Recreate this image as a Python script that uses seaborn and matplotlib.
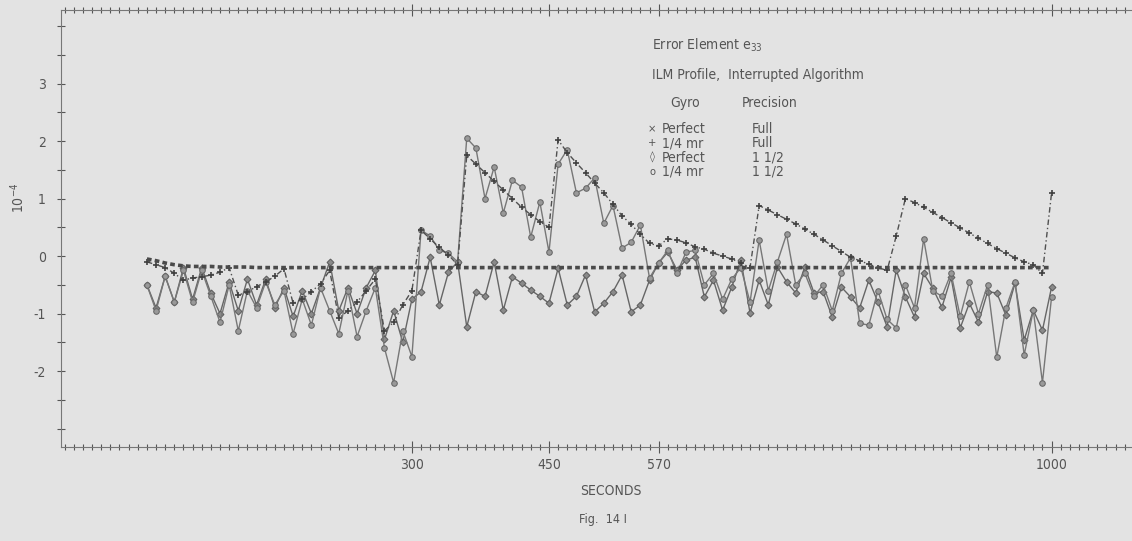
import numpy as np
import pandas as pd
import seaborn as sns
import matplotlib.pyplot as plt
from matplotlib.ticker import FixedLocator, MultipleLocator

# sample times (seconds), one point every 10 s
seconds = list(range(10, 1001, 10))

# x  Perfect gyro, full precision
perfect_full = [-0.05, -0.08, -0.12, -0.15, -0.17, -0.18, -0.18, -0.18, -0.19, -0.19,
                -0.19, -0.19, -0.2, -0.2, -0.2, -0.2, -0.2, -0.2, -0.2, -0.2,
                -0.2, -0.2, -0.2, -0.2, -0.2, -0.2, -0.2, -0.2, -0.2, -0.2,
                -0.2, -0.2, -0.2, -0.2, -0.2, -0.2, -0.2, -0.2, -0.2, -0.2,
                -0.2, -0.2, -0.2, -0.2, -0.2, -0.2, -0.2, -0.2, -0.2, -0.2,
                -0.2, -0.2, -0.2, -0.2, -0.2, -0.2, -0.2, -0.2, -0.2, -0.2,
                -0.2, -0.2, -0.2, -0.2, -0.2, -0.2, -0.2, -0.2, -0.2, -0.2,
                -0.2, -0.2, -0.2, -0.2, -0.2, -0.2, -0.2, -0.2, -0.2, -0.2,
                -0.2, -0.2, -0.2, -0.2, -0.2, -0.2, -0.2, -0.2, -0.2, -0.2,
                -0.2, -0.2, -0.2, -0.2, -0.2, -0.2, -0.2, -0.2, -0.2, -0.2]

# +  1/4 mr gyro, full precision (sawtooth, reset by the interrupted algorithm)
quarter_full = [-0.1, -0.15, -0.2, -0.3, -0.42, -0.38, -0.36, -0.33, -0.28, -0.2,
                -0.68, -0.62, -0.53, -0.45, -0.35, -0.22, -0.82, -0.75, -0.62, -0.48,
                -0.25, -1.08, -0.95, -0.8, -0.6, -0.4, -1.3, -1.15, -0.85, -0.6,
                0.45, 0.3, 0.15, 0.02, -0.15, 1.75, 1.6, 1.45, 1.3, 1.15,
                1.0, 0.85, 0.72, 0.6, 0.5, 2.02, 1.8, 1.62, 1.45, 1.27,
                1.1, 0.9, 0.7, 0.55, 0.38, 0.22, 0.18, 0.3, 0.28, 0.23,
                0.16, 0.12, 0.05, 0.0, -0.05, -0.12, -0.2, 0.88, 0.8, 0.72,
                0.64, 0.56, 0.47, 0.38, 0.28, 0.18, 0.08, -0.02, -0.08, -0.14,
                -0.2, -0.25, 0.35, 1.0, 0.93, 0.85, 0.76, 0.67, 0.58, 0.49,
                0.4, 0.31, 0.22, 0.13, 0.05, -0.03, -0.1, -0.15, -0.3, 1.1]

# diamond  Perfect gyro, 1 1/2 precision
perfect_half = [-0.5, -0.9, -0.35, -0.8, -0.2, -0.75, -0.2, -0.65, -1.0, -0.45,
                -0.95, -0.4, -0.85, -0.4, -0.9, -0.55, -1.05, -0.6, -1.0, -0.55,
                -0.1, -0.95, -0.55, -1.0, -0.55, -0.25, -1.45, -0.95, -1.5, -0.75,
                -0.62, -0.02, -0.85, -0.28, -0.1, -1.23, -0.62, -0.7, -0.1, -0.94,
                -0.36, -0.47, -0.59, -0.7, -0.82, -0.21, -0.85, -0.7, -0.33, -0.97,
                -0.82, -0.62, -0.33, -0.97, -0.85, -0.42, -0.12, 0.07, -0.24, -0.07,
                -0.02, -0.71, -0.42, -0.94, -0.54, -0.07, -0.99, -0.42, -0.85, -0.19,
                -0.45, -0.64, -0.19, -0.64, -0.62, -1.06, -0.54, -0.71, -0.9, -0.42,
                -0.8, -1.23, -0.24, -0.71, -1.06, -0.3, -0.56, -0.89, -0.37, -1.25,
                -0.82, -1.15, -0.62, -0.64, -1.03, -0.47, -1.46, -0.94, -1.29, -0.54]

# circle  1/4 mr gyro, 1 1/2 precision
quarter_half = [-0.5, -0.95, -0.35, -0.8, -0.25, -0.8, -0.25, -0.7, -1.15, -0.5,
                -1.3, -0.6, -0.9, -0.45, -0.85, -0.6, -1.35, -0.75, -1.2, -0.55,
                -0.95, -1.35, -0.6, -1.4, -0.95, -0.55, -1.6, -2.2, -1.3, -1.75,
                0.45, 0.35, 0.1, 0.05, -0.1, 2.05, 1.88, 1.0, 1.55, 0.75,
                1.32, 1.2, 0.33, 0.94, 0.07, 1.6, 1.85, 1.1, 1.18, 1.36,
                0.57, 0.88, 0.14, 0.24, 0.54, -0.38, -0.12, 0.1, -0.3, 0.07,
                0.1, -0.5, -0.3, -0.75, -0.4, -0.2, -0.8, 0.28, -0.6, -0.1,
                0.38, -0.5, -0.3, -0.7, -0.5, -0.95, -0.3, -0.03, -1.17, -1.2,
                -0.6, -1.1, -1.25, -0.5, -0.9, 0.3, -0.6, -0.7, -0.3, -1.05,
                -0.45, -1.0, -0.5, -1.76, -0.9, -0.45, -1.72, -0.94, -2.2, -0.71]

x_ticks = [300, 450, 570, 1000]
x_tick_labels = ["300", "450", "570", "1000"]
y_ticks = [-2, -1, 0, 1, 2, 3]
y_tick_labels = ["-2", "-1", "0", "1", "2", "3"]

legend_gyro = ["Perfect", "1/4 mr", "Perfect", "1/4 mr"]
legend_precision = ["Full", "Full", "1 1/2", "1 1/2"]
legend_symbols = ["\u00d7", "+", "\u25ca", "o"]

df = pd.DataFrame({"seconds": seconds, "perfect_full": perfect_full,
                   "quarter_full": quarter_full, "perfect_half": perfect_half,
                   "quarter_half": quarter_half})

sns.set_theme(style="white")
plt.rcParams["font.family"] = ["DejaVu Sans"]
plt.rcParams["font.stretch"] = "condensed"
bg = "#e3e3e3"
ink = "#555555"

fig = plt.figure(figsize=(11.32, 5.41), dpi=100, facecolor=bg)
ax = fig.add_axes([61 / 1132, 1 - 447 / 541, 1 - 61 / 1132, (447 - 10) / 541])
ax.set_facecolor(bg)

# 1 1/2 precision runs, solid zigzags
sns.lineplot(data=df, x="seconds", y="perfect_half", ax=ax, estimator=None, sort=False,
             color="#666666", lw=1.0, marker="D", ms=3.5, mec="#5e5e5e", mfc="#8a8a8a")
sns.lineplot(data=df, x="seconds", y="quarter_half", ax=ax, estimator=None, sort=False,
             color="#777777", lw=1.0, marker="o", ms=4, mec="#666666", mfc="#999999")
# full precision runs, dashed
sns.lineplot(data=df, x="seconds", y="quarter_full", ax=ax, estimator=None, sort=False,
             color="#505050", lw=1.0, linestyle=(0, (4, 2, 1, 2)), marker="+", ms=4,
             mew=1.2, mec="#404040")
sns.lineplot(data=df, x="seconds", y="perfect_full", ax=ax, estimator=None, sort=False,
             color="#4a4a4a", lw=2.6, linestyle=(0, (1.3, 0.9)))

ax.set_xlim(-84, 1088)
ax.set_ylim(-3.32, 4.28)

ax.xaxis.set_major_locator(FixedLocator(x_ticks))
ax.set_xticklabels(x_tick_labels)
ax.xaxis.set_minor_locator(MultipleLocator(10))
ax.yaxis.set_major_locator(FixedLocator(y_ticks))
ax.set_yticklabels(y_tick_labels)
ax.yaxis.set_minor_locator(MultipleLocator(0.5))

ax.tick_params(axis="x", which="both", direction="inout", top=True, bottom=True,
               length=5, width=0.8, color=ink, labelsize=10, labelcolor=ink, pad=4)
ax.tick_params(axis="x", which="major", length=8)
ax.tick_params(axis="y", which="both", direction="inout", left=True,
               length=6, width=0.8, color=ink, labelsize=10, labelcolor=ink, pad=8)

for side in ["left", "top", "bottom"]:
    ax.spines[side].set_color("#777777")
    ax.spines[side].set_linewidth(0.8)
ax.spines["top"].set_linestyle((0, (1, 1)))
ax.spines["bottom"].set_linestyle((0, (1, 1)))
ax.spines["right"].set_visible(False)

ax.set_xlabel("")
ax.set_ylabel("")

fig.text(18 / 1132, 1 - 198 / 541, "10$^{-4}$", rotation=90, ha="center", va="center",
         fontsize=10, color=ink)
fig.text(611 / 1132, 1 - 491 / 541, "SECONDS", ha="center", va="center", fontsize=10, color=ink)
fig.text(603 / 1132, 1 - 519 / 541, "Fig.  14 I", ha="center", va="center", fontsize=9, color=ink)

fig.text(652 / 1132, 1 - 45 / 541, "Error Element e$_{33}$", ha="left", va="center",
         fontsize=10, color=ink)
fig.text(652 / 1132, 1 - 75 / 541, "ILM Profile,  Interrupted Algorithm", ha="left",
         va="center", fontsize=10, color=ink)
fig.text(670 / 1132, 1 - 103 / 541, "Gyro", ha="left", va="center", fontsize=10, color=ink)
fig.text(742 / 1132, 1 - 103 / 541, "Precision", ha="left", va="center", fontsize=10, color=ink)
for i in range(4):
    yy = 1 - (129 + 14.3 * i) / 541
    fig.text(652 / 1132, yy, legend_symbols[i], ha="center", va="center", fontsize=8,
             color=ink)
    fig.text(662 / 1132, yy, legend_gyro[i], ha="left", va="center", fontsize=10, color=ink)
    fig.text(752 / 1132, yy, legend_precision[i], ha="left", va="center", fontsize=10, color=ink)

fig.savefig("out.png", dpi=100, facecolor=bg)
